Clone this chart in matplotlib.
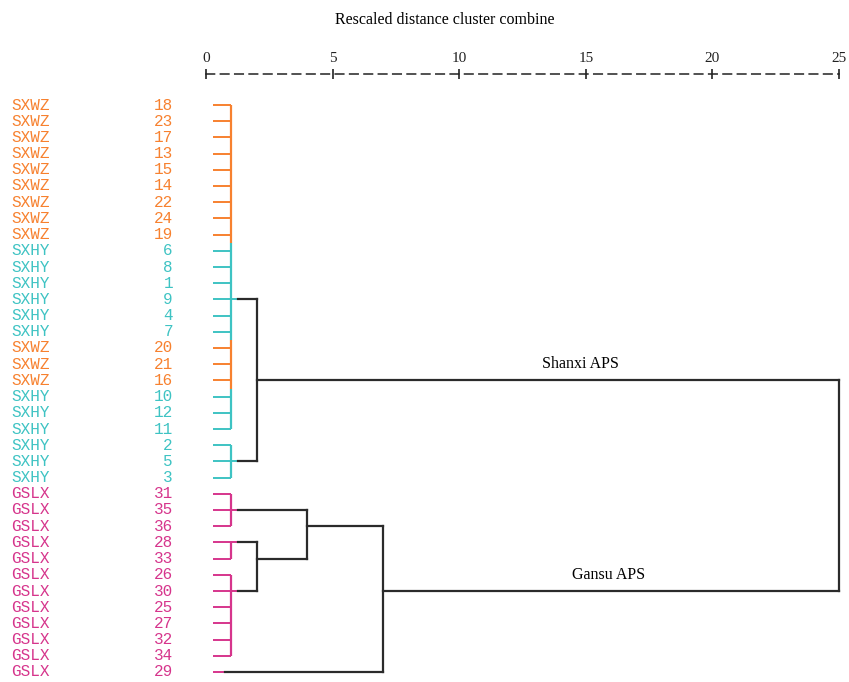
import matplotlib
matplotlib.use("Agg")
import matplotlib.pyplot as plt

# DATA
# leaves in dendrogram order (top to bottom)
leaf_groups = ['SXWZ'] * 9 + ['SXHY'] * 6 + ['SXWZ'] * 3 + ['SXHY'] * 6 + ['GSLX'] * 12
leaf_ids = [18, 23, 17, 13, 15, 14, 22, 24, 19,
            6, 8, 1, 9, 4, 7,
            20, 21, 16,
            10, 12, 11, 2, 5, 3,
            31, 35, 36, 28, 33, 26, 30, 25, 27, 32, 34, 29]

# first-level clusters: (first leaf id, last leaf id, anchor leaf id, distance)
leaf_clusters = {
    'A': (18, 11, 9, 1.0),
    'B': (2, 3, 5, 1.0),
    'C': (31, 36, 35, 1.0),
    'D': (28, 33, 28, 1.0),
    'E': (26, 34, 30, 1.0),
    'S29': (29, 29, 29, 0.75),
}
# higher merges: (name, child1, child2, rescaled distance)
merges = [
    ('AB', 'A', 'B', 2.0),
    ('DE', 'D', 'E', 2.0),
    ('CDE', 'C', 'DE', 4.0),
    ('G', 'CDE', 'S29', 7.0),
    ('ALL', 'AB', 'G', 25.0),
]
# cluster captions: name -> (text, x position in rescaled distance)
cluster_names = {'AB': ('Shanxi APS', 14.8), 'G': ('Gansu APS', 15.9)}

xticks = [0, 5, 10, 15, 20, 25]

colors = {'SXWZ': '#F7812F', 'SXHY': '#3EC3C3', 'GSLX': '#D6358C'}
line_black = '#2b2b2b'

# Set up the plot
fig = plt.figure(figsize=(8.49, 6.82), dpi=100)
W, H = 849, 682
x0, x25 = 206, 839
y_first, y_last = 105, 672
ax = fig.add_axes([x0 / W, 1 - y_last / H, (x25 - x0) / W, (y_last - y_first) / H])
n = len(leaf_ids)
ax.set_xlim(0, 25)
ax.set_ylim(n - 1, 0)
px = 25.0 / (x25 - x0)  # data units per pixel

row = {lid: i for i, lid in enumerate(leaf_ids)}
stub_start = 0.27

# anchor row and distance for each node
node = {}
for name, (first, last, anchor, d) in leaf_clusters.items():
    r0, r1 = row[first], row[last]
    node[name] = (row[anchor], d)
    for r in range(r0, r1 + 1):
        c = colors[leaf_groups[r]]
        ax.plot([stub_start, d], [r, r], color=c, lw=1.4, clip_on=False, solid_capstyle='butt')
        if r0 == r1:
            continue
        ya = max(r - 0.5, r0)
        yb = min(r + 0.5, r1)
        ax.plot([d, d], [ya, yb], color=c, lw=1.6, clip_on=False, solid_capstyle='butt')
    if r0 != r1:
        # small colored piece past the cluster line at the anchor row
        ax.plot([d, d + 0.28], [row[anchor], row[anchor]], color=colors[leaf_groups[row[anchor]]],
                lw=1.4, clip_on=False, solid_capstyle='butt')

for name, a, b, d in merges:
    ra, da = node[a]
    rb, db = node[b]
    start_a = da + 0.28 if a in leaf_clusters and da >= 1 else da
    start_b = db + 0.28 if b in leaf_clusters and db >= 1 else db
    ax.plot([start_a, d], [ra, ra], color=line_black, lw=1.6, clip_on=False, solid_capstyle='projecting')
    ax.plot([start_b, d], [rb, rb], color=line_black, lw=1.6, clip_on=False, solid_capstyle='projecting')
    ax.plot([d, d], [ra, rb], color=line_black, lw=1.6, clip_on=False, solid_capstyle='projecting')
    rr = (ra + rb) // 2
    node[name] = (rr, d)
    if name in cluster_names:
        txt, tx = cluster_names[name]
        ax.text(tx, rr - 0.5, txt, family='Liberation Serif', fontsize=11.5,
                ha='center', va='bottom')

# leaf labels on the left
for i, (g, lid) in enumerate(zip(leaf_groups, leaf_ids)):
    c = colors[g]
    ax.text(-195 * px, i, g, family='Liberation Mono', fontsize=11.5, color=c,
            ha='left', va='center', clip_on=False)
    ax.text(-33 * px, i, str(lid), family='Liberation Mono', fontsize=11.5, color=c,
            ha='right', va='center', clip_on=False)

# top axis: dashed rule with + ticks
for s in ['left', 'right', 'bottom']:
    ax.spines[s].set_visible(False)
ax.spines['top'].set_position(('outward', 22))
ax.spines['top'].set_linestyle((0, (5.6, 3.8)))
ax.spines['top'].set_linewidth(1.1)
ax.spines['top'].set_color('#222222')
ax.xaxis.tick_top()
ax.set_xticks(xticks)
ax.set_xticklabels([str(t) for t in xticks], family='Liberation Serif', fontsize=11)
ax.tick_params(axis='x', direction='inout', length=7, width=1.2, pad=3, colors='#222222')
ax.set_yticks([])

# axis caption
fig.text(445 / W, 1 - 20 / H, 'Rescaled distance cluster combine', family='Liberation Serif',
         fontsize=11.5, ha='center', va='center')

plt.savefig('out.png', dpi=100)
